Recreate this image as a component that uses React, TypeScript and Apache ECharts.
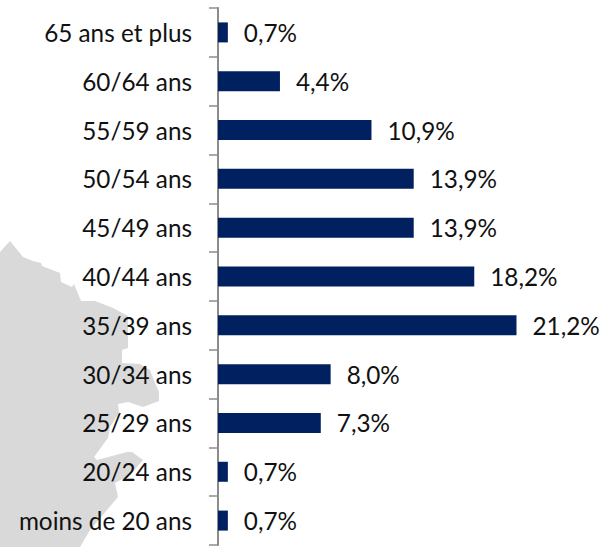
import React, { useEffect, useRef } from "react";
import * as echarts from "echarts";

const categories = ["moins de 20 ans", "20/24 ans", "25/29 ans", "30/34 ans", "35/39 ans", "40/44 ans", "45/49 ans", "50/54 ans", "55/59 ans", "60/64 ans", "65 ans et plus"];
const values = [0.7, 0.7, 7.3, 8.0, 21.2, 18.2, 13.9, 13.9, 10.9, 4.4, 0.7];
const mapOutline = [
  [0, 252], [10, 241], [23, 257], [33, 261], [41, 263], [42, 266], [60, 273], [61, 282], [72, 287], [74, 284],
  [81, 301], [95, 301], [113, 308], [128, 316], [128, 348], [122, 350], [122, 363], [140, 364], [150, 370],
  [155, 383], [159, 392], [159, 401], [143, 407], [128, 402], [118, 404], [119, 413], [110, 427], [108, 438],
  [94, 457], [97, 460], [127, 452], [132, 452], [143, 460], [130, 475], [115, 483], [118, 497], [90, 530],
  [80, 547], [0, 547],
];
const FONT = "Lato, 'Open Sans', sans-serif";

export default function App() {
  const ref = useRef<HTMLDivElement>(null);
  useEffect(() => {
    const chart = echarts.init(ref.current!, null, { renderer: "svg" });
    chart.setOption({
      animation: false,
      backgroundColor: "#ffffff",
      graphic: [
        { type: "polygon", z: -1, silent: true, shape: { points: mapOutline }, style: { fill: "#d9d9d9" } },
      ],
      grid: { left: 218, top: 8, width: 352, height: 537, containLabel: false },
      xAxis: { type: "value", min: 0, max: 25, show: false },
      yAxis: {
        type: "category",
        data: categories,
        axisLine: { show: true, lineStyle: { color: "#8c8c8c", width: 2 } },
        axisTick: { show: true, length: 9, alignWithLabel: false, lineStyle: { color: "#8c8c8c", width: 1.5 } },
        axisLabel: { color: "#111111", fontFamily: FONT, fontSize: 24.3, margin: 26 },
      },
      series: [
        {
          type: "bar",
          data: values,
          barWidth: 20,
          itemStyle: { color: "#002060" },
          label: {
            show: true,
            position: "right",
            distance: 16,
            color: "#111111",
            fontFamily: FONT,
            fontSize: 24.3,
            formatter: (p: any) => p.value.toFixed(1).replace(".", ",") + "%",
          },
        },
      ],
    });
    return () => chart.dispose();
  }, []);
  return <div ref={ref} style={{ position: "absolute", left: 0, top: 0, width: 605, height: 547 }} />;
}
